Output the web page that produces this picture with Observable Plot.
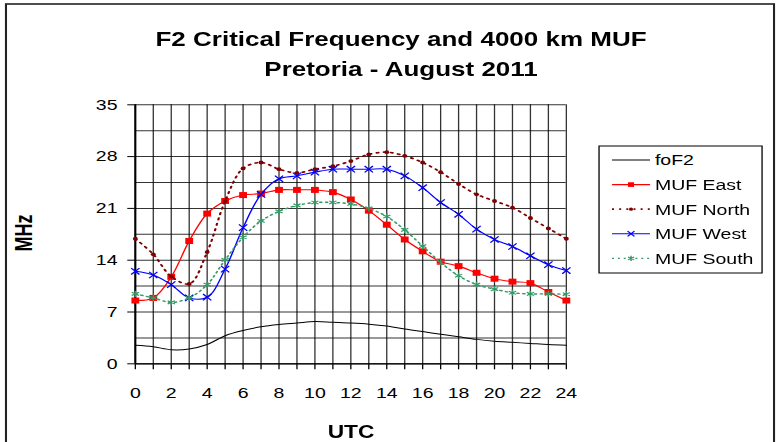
<!DOCTYPE html>
<html>
<head>
<meta charset="utf-8">
<script src="https://cdn.jsdelivr.net/npm/d3@7"></script>
<script src="https://cdn.jsdelivr.net/npm/@observablehq/plot@0.6"></script>
<style>
html,body{margin:0;padding:0;background:#fff;overflow:hidden;}
#wrap{position:absolute;left:0;top:0;width:600px;height:442px;transform:scaleX(1.3);transform-origin:0 0;}
#wrap svg{font-family:"Liberation Sans",Arial,sans-serif;}
</style>
</head>
<body>
<div id="wrap"></div>
<script>
// ---- data ----
const hours = [0,1,2,3,4,5,6,7,8,9,10,11,12,13,14,15,16,17,18,19,20,21,22,23,24];
const foF2 = [2.5,2.3,1.9,2.0,2.6,3.8,4.5,5.0,5.3,5.5,5.7,5.6,5.5,5.35,5.1,4.7,4.35,4.0,3.65,3.3,3.05,2.9,2.75,2.6,2.5];
const mufEast = [8.55,8.9,11.75,16.6,20.3,22.0,22.8,23.0,23.5,23.5,23.5,23.2,22.2,20.7,18.8,16.8,15.2,13.8,13.2,12.3,11.5,11.1,10.9,9.7,8.55];
const mufNorth = [16.9,14.8,11.8,10.8,15.1,22.0,26.4,27.2,26.3,25.8,26.3,26.7,27.4,28.3,28.6,28.1,27.2,25.9,24.3,22.9,22.0,21.1,19.7,18.3,16.9];
const mufWest = [12.5,12.0,10.7,8.9,9.0,12.8,18.4,22.9,25.0,25.4,25.9,26.3,26.3,26.3,26.3,25.4,23.8,21.8,20.2,18.2,16.8,15.85,14.6,13.4,12.6];
const mufSouth = [9.45,8.9,8.3,8.9,10.7,14.05,17.1,19.3,20.6,21.4,21.8,21.8,21.6,21.0,19.9,18.1,15.9,13.7,11.9,10.7,10.1,9.6,9.45,9.45,9.4];
const seriesNames = ["foF2","MUF East","MUF North","MUF West","MUF South"];
const seriesColors = ["#000000","#ff0000","#800000","#0000ff","#339966"];
const yTicks = [0,7,14,21,28,35];
const yGrid = [0,3.5,7,10.5,14,17.5,21,24.5,28,31.5,35];
const titleLines = ["F2 Critical Frequency and 4000 km MUF","Pretoria - August 2011"];
const xLabel = "UTC";
const yLabel = "MHz";

// ---- build ----
const rows = vals => hours.map((h,i)=>({h, v: vals[i]}));
const styles = [
  {dash: null, width: 1.0, symbol: null},
  {dash: null, width: 1.1, symbol: "square"},
  {dash: "1.5,4", width: 1.7, symbol: "circle"},
  {dash: null, width: 1.1, symbol: "times"},
  {dash: "1.5,3", width: 1.4, symbol: "asterisk"}
];
const allSeries = [foF2, mufEast, mufNorth, mufWest, mufSouth];

const seriesMarks = [];
allSeries.forEach((vals, i) => {
  const c = seriesColors[i], st = styles[i];
  seriesMarks.push(Plot.line(rows(vals), {x:"h", y:"v", stroke:c, strokeWidth:st.width, strokeDasharray: st.dash || undefined, curve:"catmull-rom"}));
  if (st.symbol === "square") seriesMarks.push(Plot.dot(rows(vals), {x:"h", y:"v", symbol:"square", r:3.4, fill:c, stroke:"none"}));
  if (st.symbol === "circle") seriesMarks.push(Plot.dot(rows(vals), {x:"h", y:"v", symbol:"circle", r:1.9, fill:c, stroke:"none"}));
  if (st.symbol === "times") seriesMarks.push(Plot.dot(rows(vals), {x:"h", y:"v", symbol:"times", r:3, fill:"none", stroke:c, strokeWidth:1.1}));
  if (st.symbol === "asterisk") seriesMarks.push(Plot.dot(rows(vals), {x:"h", y:"v", symbol:"asterisk", r:3, fill:"none", stroke:c, strokeWidth:1.1}));
});

const chart = Plot.plot({
  width: 600, height: 442,
  marginLeft: 103.6, marginRight: 164.85, marginTop: 104.3, marginBottom: 78.7,
  style: {fontFamily: '"Liberation Sans", Arial, sans-serif', fontSize: "15px", color: "#000", background: "transparent", overflow: "visible"},
  x: {domain: [0,24]},
  y: {domain: [0,35]},
  marks: [
    Plot.gridX(hours, {stroke:"#000", strokeOpacity:0.8, strokeWidth:1}),
    Plot.gridY(yGrid, {stroke:"#000", strokeOpacity:0.8, strokeWidth:1}),
    Plot.axisX(hours, {tickSize:6, tickPadding:17.5, tickFormat: d => d % 2 ? "" : String(d), label:null, fontSize:15, stroke:"#000"}),
    Plot.axisY(yTicks, {tickSize:5.7, tickPadding:8, label:null, fontSize:15, stroke:"#000"}),
    Plot.ruleX([0], {stroke:"#000", strokeWidth:1.6}),
    Plot.ruleY([0], {stroke:"#000", strokeWidth:1.3}),
    ...seriesMarks
  ]
});
document.getElementById("wrap").appendChild(chart);

// ---- decorations: border, title, axis labels, legend ----
const svg = d3.select(chart);
svg.insert("rect", ":first-child").attr("x",4.6).attr("y",4).attr("width",590.8).attr("height",470)
  .attr("fill","#fff").attr("stroke","#222").attr("stroke-width",1.6);

titleLines.forEach((t,i)=>{
  svg.append("text").attr("x",308.5).attr("y",46 + i*30).attr("text-anchor","middle")
    .attr("font-size",20).attr("font-weight","bold").attr("fill","#000").text(t);
});
svg.append("text").attr("x",270).attr("y",438).attr("text-anchor","middle")
  .attr("font-size",17.5).attr("font-weight","bold").attr("fill","#000").text(xLabel);
svg.append("text").attr("transform","translate(18.5,233) rotate(-90)").attr("text-anchor","middle")
  .attr("dy","0.36em").attr("font-size",18).attr("font-weight","bold").attr("fill","#000").text(yLabel);

const lg = svg.append("g").attr("text-anchor","start");
lg.append("rect").attr("x",460.8).attr("y",146).attr("width",125.4).attr("height",127)
  .attr("fill","#fff").attr("stroke","#000").attr("stroke-width",1);
const symbolFor = {square: d3.symbolSquare, circle: d3.symbolCircle, times: d3.symbolTimes, asterisk: d3.symbolAsterisk};
seriesNames.forEach((name,i)=>{
  const yy = 160 + i*24.6, c = seriesColors[i], st = styles[i];
  lg.append("line").attr("x1",470.8).attr("x2",500).attr("y1",yy).attr("y2",yy)
    .attr("stroke", c).attr("stroke-width", st.width).attr("stroke-dasharray", st.dash);
  if (st.symbol) {
    const fillSym = st.symbol === "square" || st.symbol === "circle";
    const size = st.symbol === "square" ? 22 : st.symbol === "circle" ? 8 : 20;
    lg.append("path").attr("transform",`translate(485.4,${yy})`)
      .attr("d", d3.symbol(symbolFor[st.symbol], size)())
      .attr("fill", fillSym ? c : "none").attr("stroke", fillSym ? "none" : c).attr("stroke-width",1.1);
  }
  lg.append("text").attr("x",503.8).attr("y",yy).attr("dy","0.36em").attr("text-anchor","start")
    .attr("font-size",15).attr("fill","#000").text(name);
});
</script>
</body>
</html>
